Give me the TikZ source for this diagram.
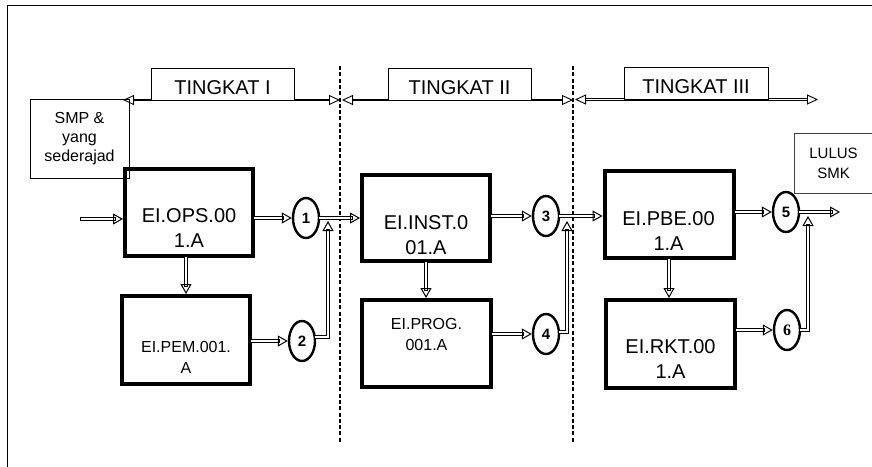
\documentclass[tikz,border=0pt]{standalone}
\usepackage{fontspec}
\setmainfont{Liberation Sans}
\newfontfamily\serifnum{Liberation Serif}
\usetikzlibrary{arrows.meta,shapes.geometric}
\newcommand\hollowarr[1]{\draw[shaft] #1; \draw[tiponly] #1;}
\begin{document}
\begin{tikzpicture}[x=1pt,y=-1pt,
  mainbox/.style={draw, line width=4pt, minimum width=128pt, minimum height=87pt, inner sep=0pt},
  thinbox/.style={draw, line width=0.9pt, inner sep=0pt, fill=white},
  tbox/.style={thinbox, minimum width=143pt, minimum height=32pt, text height=20pt, text depth=0pt, font=\fontsize{20}{24}\selectfont},
  bigtxt/.style={align=center, font=\fontsize{20}{25}\selectfont, inner sep=0pt},
  midtxt/.style={align=center, font=\fontsize{16}{21}\selectfont, inner sep=0pt},
  numell/.style={draw, ellipse, line width=2.4pt, minimum width=26pt, minimum height=40pt, inner sep=0pt, font=\fontsize{15}{15}\selectfont\bfseries},
  shaft/.style={double, double distance=2pt, line width=1pt, line cap=rect, shorten >=9.5pt},
  tiponly/.style={line width=1pt, dash pattern=on 0pt off 5000pt, -{Triangle[open, length=10pt, width=11pt]}},
  span/.style={line width=1.6pt, {Triangle[open, length=11pt, width=10pt, line width=0.9pt]}-{Triangle[open, length=11pt, width=10pt, line width=0.9pt]}},
  spanshaft/.style={double, double distance=1pt, line width=1pt, shorten >=10pt, shorten <=10pt},
  spantips/.style={line width=0.9pt, dash pattern=on 0pt off 5000pt, {Triangle[open, length=11pt, width=10pt]}-{Triangle[open, length=11pt, width=10pt]}},
  divider/.style={line width=1.6pt, dash pattern=on 4pt off 2.3pt}
]
\useasboundingbox (0,0) rectangle (872,466);
% frame
\draw[line width=0.9pt] (7,480) -- (7,5) -- (880,5);

% dividers
\coordinate (v1a) at (340,66);
\coordinate (v1b) at (340,442);
\coordinate (v2a) at (573,66);
\coordinate (v2b) at (573,443);
\draw[divider] (v1a) -- (v1b);
\draw[divider] (v2a) -- (v2b);

% side boxes
\node[thinbox, minimum width=99pt, minimum height=79pt, align=center, font=\fontsize{16}{19}\selectfont] (smp) at (79.5,138.5) {SMP \&\\yang\\sederajad};
\node[thinbox, draw=black!75, minimum width=79pt, minimum height=60pt, align=center, font=\fontsize{15}{20}\selectfont] (lulus) at (833.5,163) {LULUS\\SMK};

% span arrows
\coordinate (s0) at (123,100);
\coordinate (s1) at (340,100);
\coordinate (s2) at (342,100);
\coordinate (s3) at (573,100);
\coordinate (s4) at (575,99.5);
\coordinate (s5) at (818,99.5);
\draw[span] (s0) -- (s1);
\draw[span] (s2) -- (s3);
\draw[spanshaft] (s4) -- (s5);
\draw[spantips] (s4) -- (s5);

% level boxes
\node[tbox] (t1) at (222.5,84) {TINGKAT I};
\node[tbox] (t2) at (459.5,84) {TINGKAT II};
\node[tbox, minimum width=144pt] (t3) at (696,83) {TINGKAT III};

% main boxes
\node[mainbox] (ops) at (189,212.5) {};
\node[bigtxt] (opsL) at (189,228) {EI.OPS.00\\1.A};
\node[mainbox, minimum height=88pt] (pem) at (186,340) {};
\node[midtxt] (pemL) at (186,357.5) {EI.PEM.001.\\A};
\node[mainbox, minimum height=86pt] (inst) at (426,218) {};
\node[bigtxt] (instL) at (426,235) {EI.INST.0\\01.A};
\node[mainbox, minimum width=129pt] (prog) at (426.5,343.5) {};
\node[midtxt] (progL) at (426.5,334.5) {EI.PROG.\\001.A};
\node[mainbox, minimum width=129pt] (pbe) at (669,214.5) {};
\node[bigtxt] (pbeL) at (668.5,231) {EI.PBE.00\\1.A};
\node[mainbox, minimum width=129pt, minimum height=88pt] (rkt) at (670.5,344) {};
\node[bigtxt] (rktL) at (670.5,359.5) {EI.RKT.00\\1.A};

% numbered ellipses
\node[numell] (c1) at (306,218) {1};
\node[numell] (c2) at (302,341) {2};
\node[numell] (c3) at (546,216) {3};
\node[numell] (c4) at (546,334) {4};
\node[numell] (c5) at (786,212) {5};
\node[numell, font=\serifnum\bfseries\fontsize{16}{16}\selectfont] (c6) at (787,330) {6};

% free ends
\coordinate (in0) at (82,219);
\coordinate (j1) at (328,221);
\coordinate (j3) at (567,221);
\coordinate (j5) at (808,216);
\coordinate (out5) at (840,212);

% connectors
\hollowarr{(in0) -- (ops.west |- in0)}
\hollowarr{(ops.east |- c1) -- (c1.west)}
\hollowarr{(c1.east) -- (inst.west |- c1.east)}
\hollowarr{(ops.south -| pem.north) -- (pem.north)}
\hollowarr{(pem.east |- c2) -- (c2.west)}
\hollowarr{([yshift=4pt]c2.east) -| (j1)}

\hollowarr{(inst.east |- c3) -- (c3.west)}
\hollowarr{(c3.east) -- (pbe.west |- c3.east)}
\hollowarr{(inst.south) -- (prog.north -| inst.south)}
\hollowarr{(prog.east |- c4) -- (c4.west)}
\hollowarr{([yshift=2pt]c4.east) -| (j3)}

\hollowarr{(pbe.east |- c5) -- (c5.west)}
\hollowarr{(c5.east) -- (out5)}
\hollowarr{(pbe.south) -- (pbe.south |- rkt.north)}
\hollowarr{(rkt.east |- c6) -- (c6.west)}
\hollowarr{(c6.east) -| (j5)}
\end{tikzpicture}
\end{document}
